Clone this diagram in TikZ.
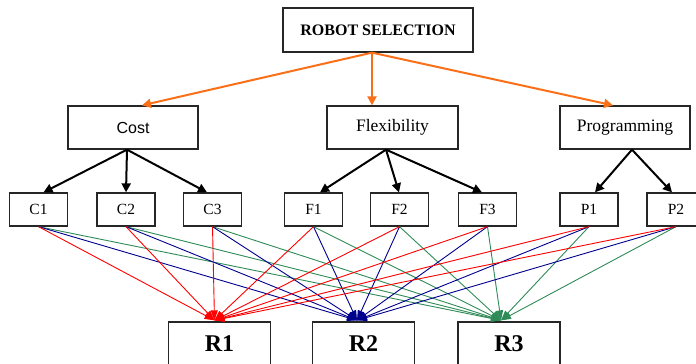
\documentclass[tikz,border=0pt]{standalone}
\usepackage{fontspec}
\setmainfont{Liberation Serif}
\newfontfamily\costfont{Liberation Sans}
\usetikzlibrary{arrows.meta}
\definecolor{selorange}{RGB}{250,112,25}
\definecolor{rtwo}{RGB}{0,0,140}
\definecolor{rthree}{RGB}{46,139,87}
\tikzset{
 box/.style={draw=black!85,line width=1.3pt,inner sep=0pt,minimum height=43pt,minimum width=130pt,font=\fontsize{17.5}{20}\selectfont},
 leaf/.style={box,minimum height=33pt,minimum width=58pt,font=\fontsize{15.5}{18}\selectfont},
 alt/.style={box,minimum height=44pt,minimum width=102pt,font=\fontsize{24}{28}\selectfont\bfseries},
 goal/.style={-{Triangle[length=9pt,width=9pt]},selorange,line width=2pt},
 sub/.style={-{Triangle[length=9pt,width=9pt]},black,line width=2pt},
 toR1/.style={-{Triangle[length=10pt,width=7pt]},red,line width=0.9pt},
 toR2/.style={-{Triangle[length=10pt,width=7pt]},rtwo,line width=0.9pt},
 toR3/.style={-{Triangle[length=10pt,width=7pt]},rthree,line width=0.9pt}
}
\begin{document}
\begin{tikzpicture}[x=1pt,y=-1pt]
 \useasboundingbox (0,0) rectangle (696,364);
 % goal and criteria
 \node[box,minimum width=190pt,minimum height=44pt,font=\fontsize{16}{18}\selectfont\bfseries] (sel) at (378,30) {ROBOT SELECTION};
 \node[box] (cost) at (133,127.5) {\costfont\fontsize{16}{18}\selectfont Cost};
 \node[box,minimum width=131pt] (flex) at (392.5,127.5) {Flexibility};
 \node[box] (prog) at (625,127.5) {Programming};
 % sub-criteria
 \node[leaf] (c1) at (38.5,209.5) {C1};
 \node[leaf] (c2) at (126,209.5) {C2};
 \node[leaf] (c3) at (212.5,209.5) {C3};
 \node[leaf] (f1) at (313.5,209.5) {F1};
 \node[leaf] (f2) at (399.5,209.5) {F2};
 \node[leaf] (f3) at (487.5,209.5) {F3};
 \node[leaf] (p1) at (589,209.5) {P1};
 \node[leaf] (p2) at (676,209.5) {P2};
 % alternatives
 \node[alt] (r1) at (219.5,344) {R1};
 \node[alt] (r2) at (363.5,344) {R2};
 \node[alt] (r3) at (509,344) {R3};
 \coordinate (in1) at ([xshift=-5pt,yshift=1pt]r1.north);
 \coordinate (in2) at ([xshift=-6.5pt,yshift=1pt]r2.north);
 \coordinate (in3) at ([xshift=-8pt,yshift=1pt]r3.north);
 % orange arrows
 \draw[goal] ([xshift=-6pt]sel.south) -- ([xshift=9pt]flex.north -| cost.north);
 \draw[goal] ([xshift=-6pt]sel.south) -- ([xshift=-20.5pt]flex.north);
 \draw[goal] ([xshift=-6pt]sel.south) -- ([xshift=-12pt]prog.north);
 % black arrows
 \draw[sub] ([xshift=-6pt]cost.south) -- ([xshift=5pt]c1.north);
 \draw[sub] ([xshift=-6pt]cost.south) -- (c2.north);
 \draw[sub] ([xshift=-6pt]cost.south) -- ([xshift=-5.5pt]c3.north);
 \draw[sub] ([xshift=-6.5pt]flex.south) -- ([xshift=6.5pt]f1.north);
 \draw[sub] ([xshift=-6.5pt]flex.south) -- ([xshift=-0.5pt]f2.north);
 \draw[sub] ([xshift=-6.5pt]flex.south) -- ([xshift=-5.5pt]f3.north);
 \draw[sub] ([xshift=7pt]prog.south) -- ([xshift=6pt]p1.north);
 \draw[sub] ([xshift=7pt]prog.south) -- ([xshift=-4pt]p2.north);
 % green lines to R3
 \draw[toR3] (c1.south) -- (in3);
 \draw[toR3] (c2.south) -- (in3);
 \draw[toR3] (c3.south) -- (in3);
 \draw[toR3] (f1.south) -- (in3);
 \draw[toR3] (f2.south) -- (in3);
 \draw[toR3] (f3.south) -- (in3);
 \draw[toR3] (p1.south) -- (in3);
 \draw[toR3] (p2.south) -- (in3);
 % blue lines to R2
 \draw[toR2] (c1.south) -- (in2);
 \draw[toR2] (c2.south) -- (in2);
 \draw[toR2] (c3.south) -- (in2);
 \draw[toR2] (f1.south) -- (in2);
 \draw[toR2] (f2.south) -- (in2);
 \draw[toR2] (f3.south) -- (in2);
 \draw[toR2] (p1.south) -- (in2);
 \draw[toR2] (p2.south) -- (in2);
 % red lines to R1
 \draw[toR1] (c1.south) -- (in1);
 \draw[toR1] (c2.south) -- (in1);
 \draw[toR1] (c3.south) -- (in1);
 \draw[toR1] (f1.south) -- (in1);
 \draw[toR1] (f2.south) -- (in1);
 \draw[toR1] (f3.south) -- (in1);
 \draw[toR1] (p1.south) -- (in1);
 \draw[toR1] (p2.south) -- (in1);
\end{tikzpicture}
\end{document}
